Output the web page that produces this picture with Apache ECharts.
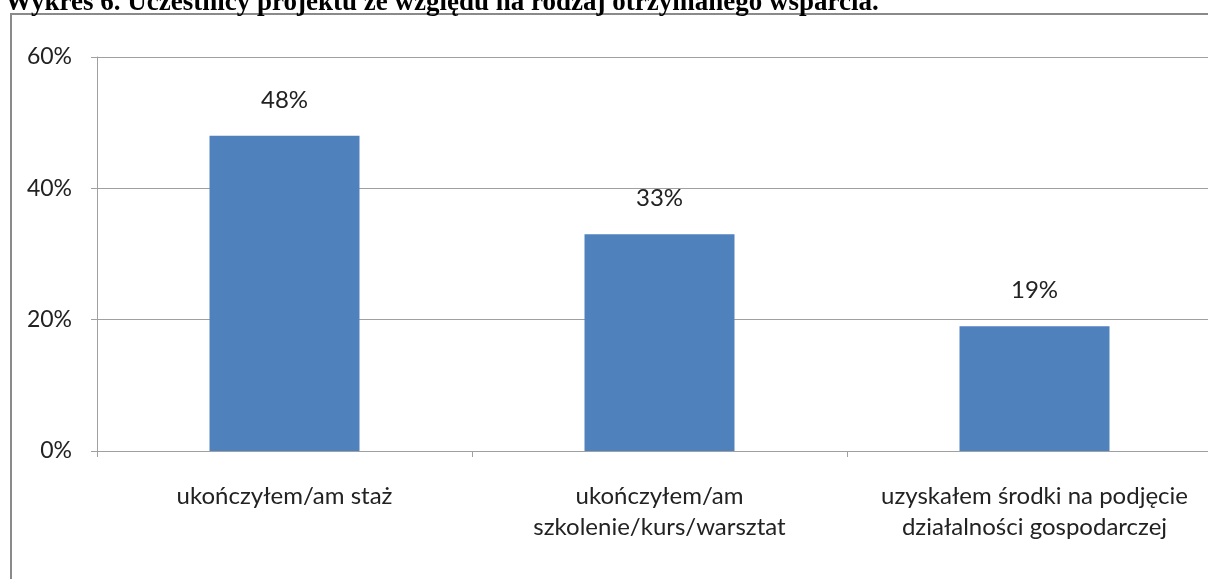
<!DOCTYPE html>
<html><head><meta charset="utf-8">
<script src="https://cdn.jsdelivr.net/npm/echarts@6/dist/echarts.min.js"></script>
<style>html,body{margin:0;padding:0;background:#fff;}#c{width:1208px;height:579px;}</style>
</head><body><div id="c"></div>
<script>
const titleText = 'Wykres 6. Uczestnicy projektu ze względu na rodzaj otrzymanego wsparcia.';
const categories = ['ukończyłem/am staż', 'ukończyłem/am\nszkolenie/kurs/warsztat', 'uzyskałem środki na podjęcie\ndziałalności gospodarczej'];
const values = [48, 33, 19];
const yTicks = [0, 20, 40, 60];

const chart = echarts.init(document.getElementById('c'));
chart.setOption({
  animation: false,
  title: {
    text: titleText, left: 0, top: -15,
    textStyle: {fontFamily: 'Liberation Serif', fontWeight: 'bold', fontSize: 27, color: '#000'}
  },
  graphic: [{
    type: 'rect', shape: {x: 11, y: 14, width: 1230, height: 600},
    style: {fill: 'none', stroke: '#8a8a8a', lineWidth: 2}, silent: true
  }],
  grid: {left: 97, width: 1125, top: 57, bottom: 128, containLabel: false, outerBoundsMode: 'none'},
  xAxis: {
    type: 'category', data: categories,
    axisLine: {lineStyle: {color: '#a0a0a0', width: 1}},
    axisTick: {show: true, length: 6, lineStyle: {color: '#a0a0a0'}},
    axisLabel: {fontFamily: 'Lato', fontSize: 24, color: '#222', margin: 30, lineHeight: 31, interval: 0}
  },
  yAxis: {
    type: 'value', min: yTicks[0], max: yTicks[yTicks.length - 1], interval: 20,
    axisLine: {show: true, lineStyle: {color: '#a0a0a0'}},
    axisTick: {show: true, length: 6, lineStyle: {color: '#a0a0a0'}},
    splitLine: {lineStyle: {color: '#a0a0a0'}},
    axisLabel: {fontFamily: 'Lato', fontSize: 23, color: '#222', margin: 25, formatter: '{value}%'}
  },
  series: [{
    type: 'bar', data: values, barWidth: '40%',
    itemStyle: {color: '#4f81bd'},
    label: {show: true, position: 'top', distance: 24, formatter: '{c}%', fontFamily: 'Lato', fontSize: 24, color: '#222'}
  }]
});
</script></body></html>
